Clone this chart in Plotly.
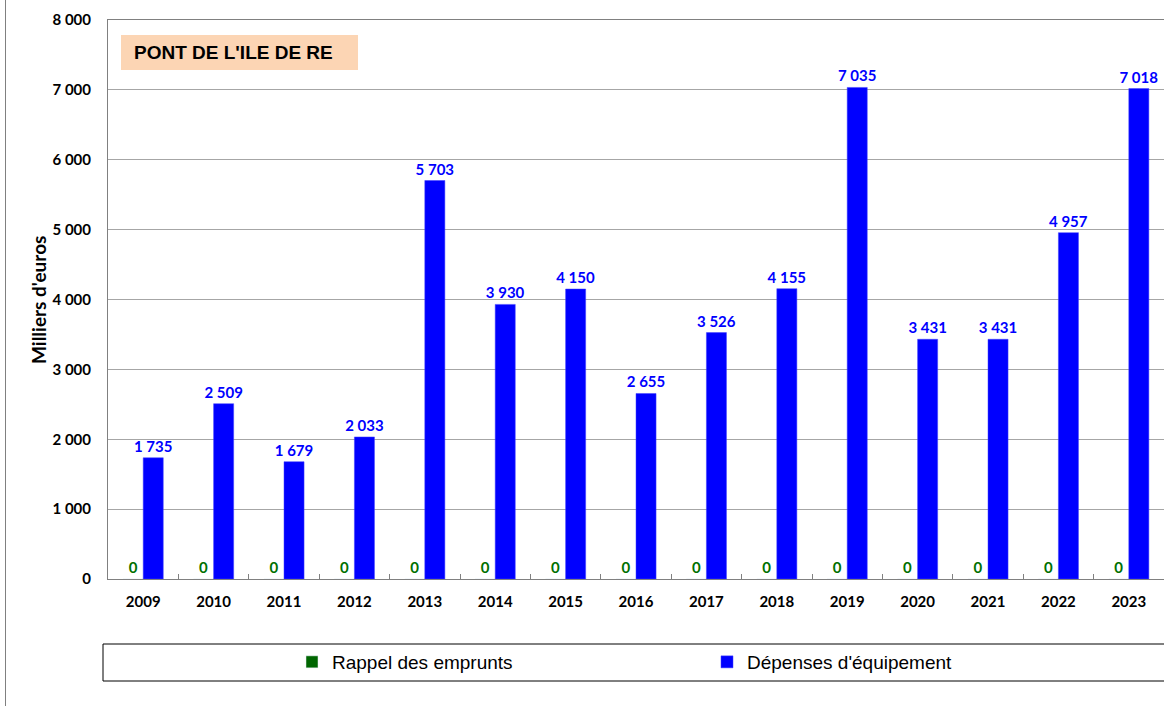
import plotly.graph_objects as go

years = ["2009", "2010", "2011", "2012", "2013", "2014", "2015", "2016",
         "2017", "2018", "2019", "2020", "2021", "2022", "2023"]
rappel_emprunts = [0, 0, 0, 0, 0, 0, 0, 0, 0, 0, 0, 0, 0, 0, 0]
depenses_equipement = [1735, 2509, 1679, 2033, 5703, 3930, 4150, 2655,
                       3526, 4155, 7035, 3431, 3431, 4957, 7018]
y_ticks = [0, 1000, 2000, 3000, 4000, 5000, 6000, 7000, 8000]


def fmt(v):
    return f"{v:,}".replace(",", " ")


W, H = 1164, 706
L, R, T, B = 108, 0, 20, 127
pw, ph = W - L - R, H - T - B


def px_x(x):
    return (x - L) / pw


def px_y(y):
    return (H - B - y) / ph


label_font = "Lato, 'Open Sans', sans-serif"
arial = "'Liberation Sans', Arial, sans-serif"

fig = go.Figure()
fig.add_bar(
    x=years, y=rappel_emprunts, name="Rappel des emprunts",
    marker=dict(color="#006600"),
    text=[fmt(v) for v in rappel_emprunts], textposition="outside",
    textfont=dict(color="#007000", size=15, family=label_font, weight="bold"),
    constraintext="none", cliponaxis=False,
)
fig.add_bar(
    x=years, y=depenses_equipement, name="Dépenses d'équipement",
    marker=dict(color="#0000FF", line=dict(color="#4040FF", width=0.5)),
    text=[fmt(v) for v in depenses_equipement], textposition="outside",
    textfont=dict(color="#0000FF", size=15, family=label_font, weight="bold"),
    constraintext="none", cliponaxis=False,
)

fig.update_layout(
    width=W, height=H,
    margin=dict(l=L, r=R, t=T, b=B, pad=0),
    paper_bgcolor="white", plot_bgcolor="white",
    barmode="group", bargap=0.43, bargroupgap=0.0,
    showlegend=True,
    legend=dict(
        orientation="h", x=px_x(292), xanchor="left",
        y=px_y(662), yanchor="middle",
        font=dict(family=arial, size=19, color="black"),
        entrywidth=370, entrywidthmode="pixels",
        bgcolor="rgba(0,0,0,0)", traceorder="normal",
    ),
    xaxis=dict(
        type="category", showgrid=False,
        showline=True, linecolor="#808080", linewidth=1, mirror=True,
        ticks="inside", tickson="boundaries", ticklen=5, tickcolor="#808080",
        tickfont=dict(family=label_font, size=15, color="black", weight="bold"),
        ticklabelstandoff=9,
    ),
    yaxis=dict(
        range=[0, 8000], tickvals=y_ticks,
        ticktext=[fmt(v) for v in y_ticks],
        showgrid=True, gridcolor="#A6A6A6", gridwidth=1,
        showline=True, linecolor="#808080", linewidth=1,
        ticks="", zeroline=False,
        tickfont=dict(family=label_font, size=15, color="black", weight="bold"),
        ticklabelstandoff=13,
    ),
)

# Y-axis title
fig.add_annotation(
    xref="paper", yref="paper", x=px_x(38), y=px_y(300),
    text="<b>Milliers d'euros</b>", textangle=-90, showarrow=False,
    font=dict(family=label_font, size=19, color="black"),
    xanchor="center", yanchor="middle",
)

# Title box background
fig.add_shape(
    type="rect", xref="paper", yref="paper", layer="above",
    x0=px_x(121), x1=px_x(358), y0=px_y(70), y1=px_y(35),
    line=dict(width=0), fillcolor="#FCD5B4",
)
fig.add_annotation(
    xref="paper", yref="paper", x=px_x(132), y=px_y(52.5),
    xanchor="left", yanchor="middle",
    text="<b>PONT DE L'ILE DE RE</b>", showarrow=False,
    font=dict(family=arial, size=19, color="black"),
)

# Legend frame
fig.add_shape(
    type="rect", xref="paper", yref="paper",
    x0=px_x(103), x1=px_x(1175), y0=px_y(681), y1=px_y(644),
    line=dict(color="black", width=1), fillcolor="rgba(0,0,0,0)",
)

# Outer left frame line
fig.add_shape(
    type="line", xref="paper", yref="paper",
    x0=px_x(5.5), x1=px_x(5.5), y0=px_y(706), y1=px_y(0),
    line=dict(color="#808080", width=1),
)

fig.write_html("out.html")
